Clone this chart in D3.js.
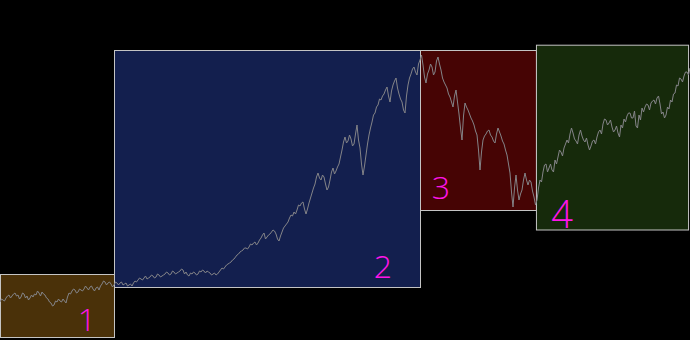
<!DOCTYPE html>
<html>
<head>
<meta charset="utf-8">
<script src="https://cdn.jsdelivr.net/npm/d3@7"></script>
<style>
  body { margin: 0; background: #000; }
  svg { display: block; }
</style>
</head>
<body>
<script>
let prices = [
    38, 41, 40, 39, 42, 44, 45, 42, 44, 46, 47, 44, 45, 41, 43, 47, 46, 42, 44, 40, 42, 45, 43, 46, 45, 49, 47, 44, 48, 46, 45, 42, 41, 38, 37, 34, 35, 39, 38, 41,
    39, 38, 41, 39, 37, 43, 47, 46, 49, 51, 50, 47, 48, 51, 50, 49, 51, 54, 52, 50, 53, 54, 51, 49, 52, 53, 50, 54, 56, 59, 58, 55, 57, 58, 56, 53, 55, 58, 57, 55,
    57, 58, 55, 56, 57, 54, 55, 56, 54, 57, 59, 58, 60, 62, 61, 60, 62, 64, 61, 62, 63, 65, 64, 62, 63, 66, 65, 63, 64, 65, 66, 68, 67, 65, 66, 69, 68, 66, 67, 68,
    69, 71, 70, 66, 68, 65, 64, 67, 66, 68, 67, 65, 66, 69, 68, 70, 69, 67, 69, 68, 67, 65, 66, 67, 65, 66, 68, 70, 72, 71, 73, 75, 76, 77, 78, 80, 81, 83, 85, 86,
    88, 89, 90, 92, 92, 91, 93, 96, 95, 97, 98, 95, 97, 100, 102, 105, 107, 101, 103, 105, 106, 108, 110, 109, 106, 101, 99, 104, 108, 112, 114, 116, 118, 122, 125, 124, 128, 126, 130, 135,
    134, 137, 138, 131, 126, 131, 137, 142, 147, 152, 156, 163, 167, 162, 160, 165, 163, 156, 150, 153, 160, 168, 172, 166, 169, 173, 176, 183, 190, 198, 203, 197, 199, 205, 201, 194, 196, 206, 215, 200,
    192, 176, 165, 174, 185, 196, 205, 212, 218, 225, 227, 233, 235, 241, 240, 244, 246, 250, 253, 244, 238, 249, 255, 259, 262, 252, 246, 241, 238, 230, 227, 244, 255, 262, 266, 271, 273, 268, 265, 276,
    280, 285, 275, 263, 257, 266, 270, 276, 273, 265, 268, 279, 283, 276, 270, 262, 258, 255, 252, 246, 243, 238, 233, 244, 250, 238, 226, 212, 200, 224, 237, 233, 230, 226, 222, 219, 215, 209, 205, 190,
    170, 188, 200, 204, 206, 209, 210, 205, 203, 199, 197, 206, 212, 208, 204, 199, 196, 190, 185, 176, 167, 148, 133, 152, 165, 150, 140, 146, 150, 160, 167, 160, 155, 160, 158, 149, 143, 135, 140, 152,
    160, 158, 168, 175, 176, 168, 172, 176, 170, 168, 180, 176, 183, 190, 188, 184, 192, 196, 200, 197, 206, 212, 207, 201, 199, 196, 205, 210, 204, 200, 198, 202, 195, 190, 194, 199, 200, 196, 203, 208,
    210, 206, 216, 221, 220, 215, 217, 220, 213, 208, 210, 214, 207, 203, 215, 212, 221, 218, 224, 227, 227, 222, 222, 229, 214, 212, 225, 220, 232, 228, 233, 236, 235, 230, 237, 239, 240, 236, 242, 244,
    236, 226, 228, 222, 225, 233, 231, 240, 238, 246, 247, 255, 254, 262, 261, 258, 264, 268, 268, 265, 272
]

// market phases: first / last reading and the band of levels they cover
let phaseNames = ["1", "2", "3", "4"]
let phaseStart = [0, 76, 280, 357.3]
let phaseEnd = [76, 280, 357.3, 458.7]
let phaseLow = [3, 53, 130, 110.5]
let phaseHigh = [66, 290, 290, 295.3]
let phaseLabelAt = [58, 255.3, 294, 374.7]
let phaseLabelLevel = [9, 62, 141, 112]

function colors(i) {
    // hnědá, modrá, červená, zelená
    let c = ["#4a3109", "#131f4e", "#460404", "#162a0b"]
    return c[i]
}

let w = 690
let h = 340

let x = d3.scaleLinear([0, 460], [0, w])
let y = d3.scaleLinear([0, h], [h, 0])

let svg = d3.select("body")
    .append("svg")
        .attr("width", w)
        .attr("height", h)
        .style("background", "#000")

let phases = phaseNames.map((n, i) => ({
    name: n,
    start: phaseStart[i],
    end: phaseEnd[i],
    low: phaseLow[i],
    high: phaseHigh[i],
    at: phaseLabelAt[i],
    level: phaseLabelLevel[i],
    i: i
}))

svg.append("g").selectAll("rect")
    .data(phases)
    .enter()
    .append("rect")
        .attr("x", d => x(d.start) + 0.5)
        .attr("y", d => y(d.high) + 0.5)
        .attr("width", d => x(d.end) - x(d.start))
        .attr("height", d => y(d.low) - y(d.high))
        .style("fill", d => colors(d.i))
        .style("stroke", "#c4c4c4")
        .style("stroke-width", 1)

let line = d3.line()
    .x((d, i) => x(i))
    .y(d => y(d))

svg.append("path")
    .datum(prices)
    .attr("d", line)
    .style("fill", "none")
    .style("stroke", "#848488")
    .style("stroke-width", 1)

svg.append("g").selectAll("text")
    .data(phases)
    .enter()
    .append("text")
        .text(d => d.name)
        .attr("x", d => x(d.at))
        .attr("y", d => y(d.level))
        .attr("text-anchor", "middle")
        .style("fill", "#ff14e8")
        .style("font-family", "'Open Sans', sans-serif")
        .style("font-weight", 300)
        .style("font-size", d => d.name === "4" ? "38px" : "32px")
</script>
</body>
</html>
